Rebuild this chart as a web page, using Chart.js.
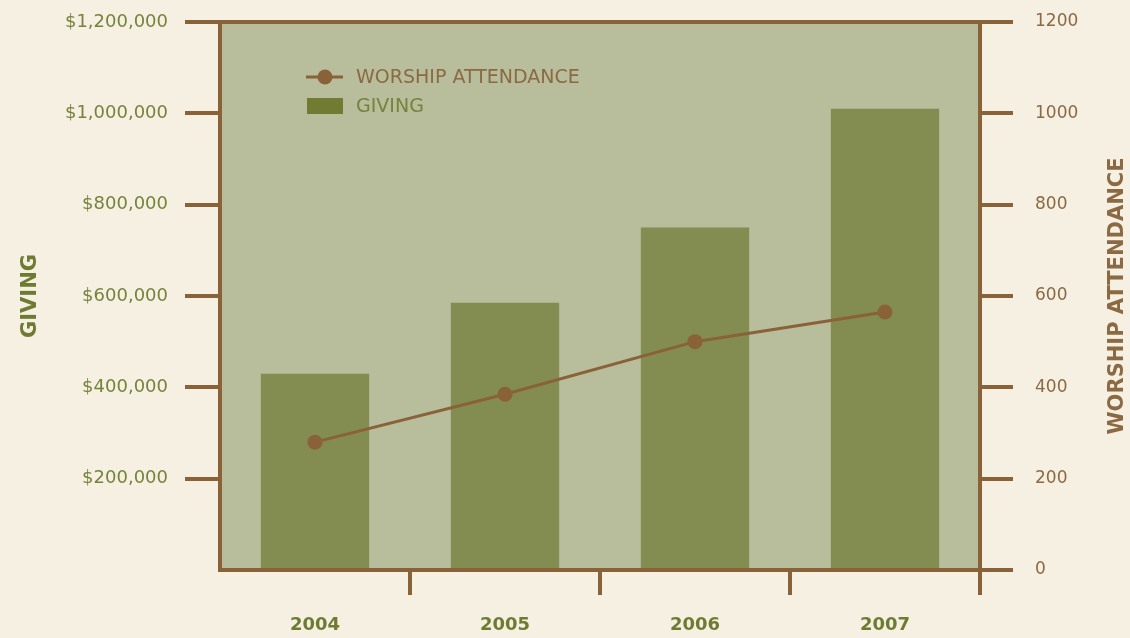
<!DOCTYPE html>
<html>
<head>
<script src="https://cdn.jsdelivr.net/npm/chart.js@4.4.1/dist/chart.umd.min.js"></script>
<style>
body {
  margin: 0;
  background: #f6f0e2;
  font-family: "DejaVu Sans", sans-serif;
}
#wrap {
  position: relative;
  width: 1130px;
  height: 638px;
}
</style>
</head>
<body>
<div id="wrap">
  <canvas id="chart" width="1130" height="638"></canvas>
</div>
<script>
// data
var years = ["2004", "2005", "2006", "2007"];
var giving = [430000, 585000, 750000, 1010000];
var attendance = [280, 385, 500, 565];

var brown = "#8a6239";
var brownText = "#8b6a43";
var green = "#75833b";
var greenDark = "#6e7b33";
var barColor = "#838c51";
var plotBg = "#b8bd9b";

// plot background + frame + legend + right axis title
var decor = {
  id: "decor",
  beforeDatasetsDraw: function(chart) {
    var a = chart.chartArea, c = chart.ctx;
    c.save();
    c.fillStyle = plotBg;
    c.fillRect(a.left, a.top, a.right - a.left, a.bottom - a.top);
    c.restore();
  },
  afterDatasetsDraw: function(chart) {
    var a = chart.chartArea, c = chart.ctx;
    c.save();
    c.strokeStyle = brown;
    c.lineWidth = 4;
    c.strokeRect(a.left, a.top, a.right - a.left, a.bottom - a.top);

    // legend
    var ds = chart.data.datasets;
    c.font = "19px 'DejaVu Sans'";
    c.textBaseline = "middle";
    c.lineWidth = 3;
    c.beginPath();
    c.moveTo(306, 77);
    c.lineTo(343, 77);
    c.stroke();
    c.fillStyle = brown;
    c.beginPath();
    c.arc(325, 77, 7.5, 0, Math.PI * 2);
    c.fill();
    c.fillStyle = brownText;
    c.fillText(ds[0].label, 356, 78);
    c.fillStyle = "#717b32";
    c.fillRect(307, 98, 36, 16);
    c.fillStyle = green;
    c.fillText(ds[1].label, 356, 107);

    // right axis title, reading bottom to top
    c.font = "bold 21px 'DejaVu Sans'";
    c.fillStyle = brownText;
    c.textAlign = "center";
    c.translate(1118, (a.top + a.bottom) / 2);
    c.rotate(-Math.PI / 2);
    c.fillText("WORSHIP ATTENDANCE", 0, 0);
    c.restore();
  }
};

// fixed axis boxes so the plot sits where the original has it
function fixW(w) {
  return function(s) { s.width = w; s.paddingTop = 0; s.paddingBottom = 0; };
}

var ctx = document.getElementById("chart");
var chart = new Chart(ctx, {
  data: {
    labels: years,
    datasets: [
      {
        type: "line",
        label: "WORSHIP ATTENDANCE",
        data: attendance,
        yAxisID: "y1",
        borderColor: brown,
        backgroundColor: brown,
        borderWidth: 3,
        pointRadius: 7.5,
        pointBackgroundColor: brown,
        pointBorderWidth: 0,
        tension: 0,
        order: 0
      },
      {
        type: "bar",
        label: "GIVING",
        data: giving,
        yAxisID: "y",
        backgroundColor: barColor,
        categoryPercentage: 1,
        barPercentage: 0.57,
        order: 1
      }
    ]
  },
  options: {
    responsive: false,
    animation: false,
    layout: { padding: { top: 22, left: 0, right: 0, bottom: 0 } },
    plugins: {
      legend: { display: false },
      tooltip: { enabled: false }
    },
    scales: {
      x: {
        afterFit: function(s) { s.height = 68; s.paddingLeft = 0; s.paddingRight = 0; },
        border: { display: false },
        grid: {
          drawOnChartArea: false,
          tickLength: 25,
          lineWidth: 4,
          color: function(c) { return c.index === 0 ? "rgba(0,0,0,0)" : brown; }
        },
        ticks: {
          padding: 20,
          color: greenDark,
          font: { family: "DejaVu Sans", size: 18, weight: "bold" }
        }
      },
      y: {
        position: "left",
        min: 0,
        max: 1200000,
        afterFit: fixW(220),
        border: { display: false },
        grid: {
          drawOnChartArea: false,
          tickLength: 35,
          lineWidth: 4,
          color: function(c) { return c.tick && c.tick.value === 0 ? "rgba(0,0,0,0)" : brown; }
        },
        ticks: {
          stepSize: 200000,
          padding: 17,
          color: green,
          font: { family: "DejaVu Sans", size: 18 },
          callback: function(v) { return v === 0 ? "" : "$" + v.toLocaleString("en-US"); }
        },
        title: {
          display: true,
          text: "GIVING",
          color: greenDark,
          padding: { top: 18, bottom: 0 },
          font: { family: "DejaVu Sans", size: 21, weight: "bold" }
        }
      },
      y1: {
        position: "right",
        min: 0,
        max: 1200,
        afterFit: fixW(150),
        border: { display: false },
        grid: {
          drawOnChartArea: false,
          tickLength: 33,
          lineWidth: 4,
          color: brown
        },
        ticks: {
          stepSize: 200,
          padding: 22,
          color: brownText,
          font: { family: "DejaVu Sans", size: 17 },
          callback: function(v) { return String(v); }
        }
      }
    }
  },
  plugins: [decor]
});
</script>
</body>
</html>
